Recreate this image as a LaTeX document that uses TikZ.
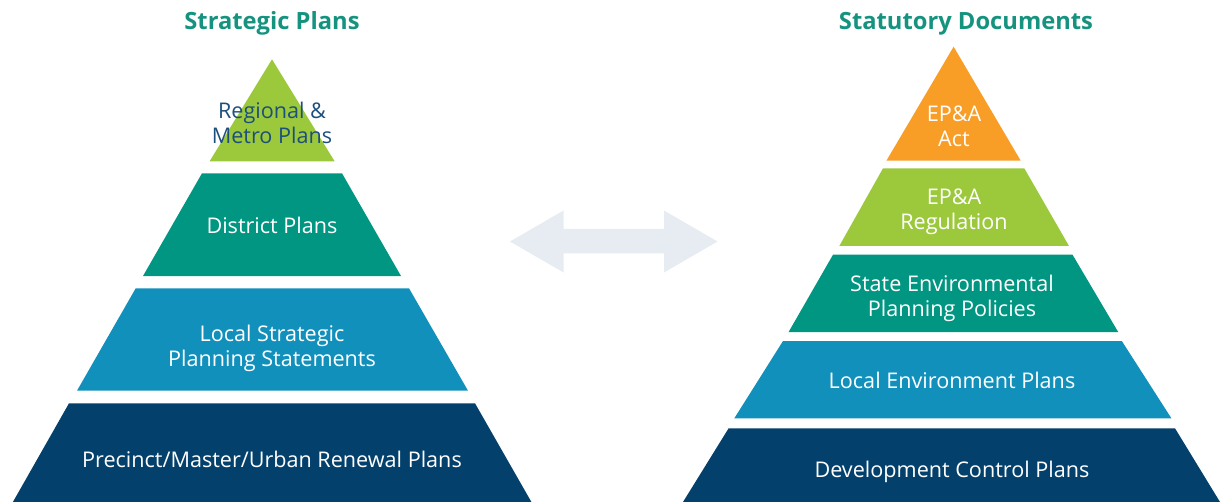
\documentclass[tikz,border=0pt]{standalone}
\usepackage{fontspec}
\setmainfont{Open Sans}
\usepackage{xcolor}
\definecolor{tiergreen}{HTML}{9BC93B}
\definecolor{tierteal}{HTML}{009682}
\definecolor{tierblue}{HTML}{1190BC}
\definecolor{tiernavy}{HTML}{03416C}
\definecolor{tierorange}{HTML}{F89D26}
\definecolor{headteal}{HTML}{15937F}
\definecolor{labelnavy}{HTML}{1D4F7C}
\definecolor{arrowgrey}{HTML}{E6ECF2}
\tikzset{
  tier/.style      = {fill=#1},
  tierlabel/.style = {text=white, align=center, anchor=base, inner sep=0pt,
                      font=\fontsize{16.2}{18.75}\selectfont},
  heading/.style   = {text=headteal, anchor=base, inner sep=0pt,
                      font=\bfseries\fontsize{17.8}{20}\selectfont},
  swap/.style      = {fill=arrowgrey}
}

\begin{document}
\begin{tikzpicture}[x=0.75pt,y=-0.75pt]
\useasboundingbox (0,0) rectangle (1227,502);

% --- strategic plans pyramid ----------------------------------------------
\node[heading] (strattitle) at (272,29.3) {Strategic Plans};

\fill[tier=tiergreen]  (272,59.3) -- (334.6,161.3) -- (209.6,161.3) -- cycle;
\fill[tier=tierteal]   (202,173.3) -- (342,173.3) -- (401,276) -- (143,276) -- cycle;
\fill[tier=tierblue]   (135.7,288.3) -- (409,288.3) -- (468,390.7) -- (77,390.7) -- cycle;
\fill[tier=tiernavy]   (69,403.3) -- (475,403.3) -- (531.4,502) -- (12.9,502) -- cycle;

% (base of a two-line label = baseline of its last line)
\node[tierlabel, text=labelnavy] (regional) at (272,143.3) {Regional \&\\Metro Plans};
\node[tierlabel] (district) at (272,233.3) {District Plans};
\node[tierlabel] (lsps)     at (272,366.7) {Local Strategic\\Planning Statements};
\node[tierlabel] (precinct) at (272,467.3) {Precinct/Master/Urban Renewal Plans};

% --- two-way arrow between the pyramids -----------------------------------
\fill[swap] (510,241.5) -- (563.5,210.5) -- (563.5,229) -- (664,229)
  -- (664,210.5) -- (717.5,241.5) -- (664,272.5) -- (664,253.5)
  -- (563.5,253.5) -- (563.5,272.5) -- cycle;

% --- statutory documents pyramid ------------------------------------------
\node[heading] (stattitle) at (966,29.3) {Statutory Documents};

\fill[tier=tierorange] (953.6,46.7) -- (1020.7,160.7) -- (886.4,160.7) -- cycle;
\fill[tier=tiergreen]  (883,168.3) -- (1024.3,168.3) -- (1069,246) -- (839.3,246) -- cycle;
\fill[tier=tierteal]   (833,254.7) -- (1072.5,254.7) -- (1118.2,332) -- (788.6,332) -- cycle;
\fill[tier=tierblue]   (783,341) -- (1121.8,341) -- (1171.4,418.3) -- (734.3,418.3) -- cycle;
\fill[tier=tiernavy]   (728.6,428.3) -- (1175,428.3) -- (1220,502) -- (683,502) -- cycle;

\node[tierlabel] (epaact) at (954,146.7) {EP\&A\\Act};
\node[tierlabel] (epareg) at (954,229.3) {EP\&A\\Regulation};
\node[tierlabel] (sepp)   at (952,316)   {State Environmental\\Planning Policies};
\node[tierlabel] (lep)    at (952,388.3) {Local Environment Plans};
\node[tierlabel] (dcp)    at (952,477.3) {Development Control Plans};

\end{tikzpicture}
\end{document}
